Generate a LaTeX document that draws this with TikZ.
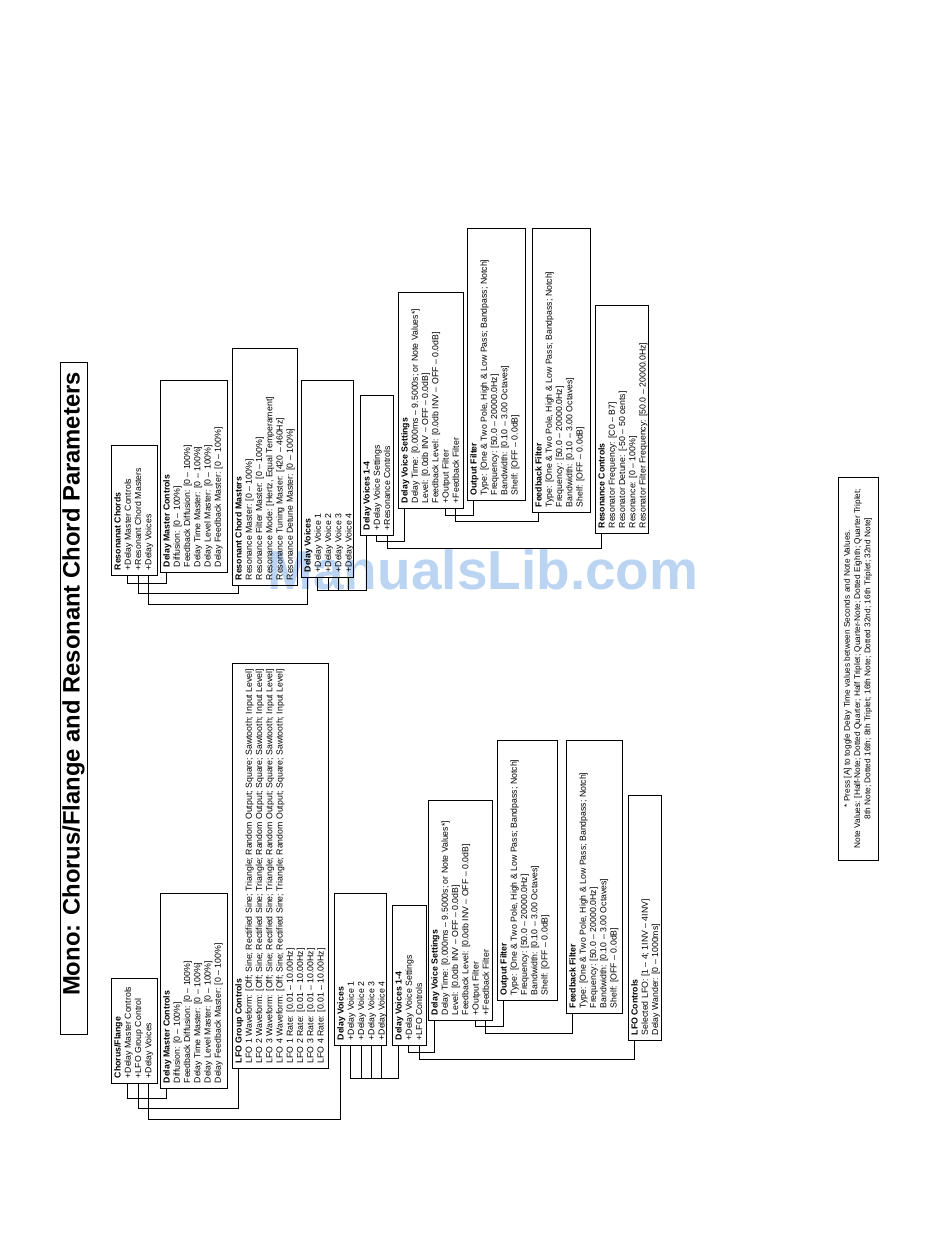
\documentclass[tikz,border=0pt]{standalone}
\usepackage{fontspec}
\setmainfont{Liberation Sans}
\usetikzlibrary{calc}
\definecolor{wmblue}{RGB}{186,212,242}
\newcommand\mkbox[6]{%
  \node[box, minimum width={(#5-#4)*1pt}, minimum height={(#3-#2)*1pt}] (#1) at ({(#2+#3)/2},{(#4+#5)/2}) {};
  \node[txt] (#1t) at (#1.north west) {#6};}
\begin{document}
\begin{tikzpicture}[x=1pt,y=-1pt,
  box/.style={draw, line width=1pt, rotate=90, inner sep=0pt},
  txt/.style={rotate=90, anchor=north west, align=left, inner xsep=5pt, inner ysep=3.5pt, font=\fontsize{8.75}{10.25}\selectfont},
  wire/.style={line width=1pt}]
\path[use as bounding box] (0,0) rectangle (950,1248);
\node[text=wmblue, font=\bfseries\fontsize{55}{60}\selectfont] (wm) at (483,570) {ManualsLib.com};
\node[draw, line width=1pt, rotate=90, minimum width=672pt, minimum height=27pt, inner sep=0pt] (title) at (73.5,698) {};
\node[rotate=90, inner sep=0pt, font=\bfseries\fontsize{23.8}{28}\selectfont] (titlet) at (73.5,684) {Mono: Chorus/Flange and Resonant Chord Parameters};
% ---------- bottom group ----------
\mkbox{cf}{111}{157}{978}{1083}{{\bfseries Chorus/Flange}\\+Delay Master Controls\\+LFO Group Control\\+Delay Voices}
\mkbox{dmcb}{160}{227}{893}{1088}{{\bfseries Delay Master Controls}\\Diffusion: [0 – 100\%]\\Feedback Diffusion: [0 – 100\%]\\Delay Time Master: [0 – 100\%]\\Delay Level Master: [0 – 100\%]\\Delay Feedback Master: [0 – 100\%]}
\mkbox{lfo}{232}{328}{663}{1068}{{\bfseries LFO Group Controls}\\LFO 1 Waveform: [Off; Sine; Rectified Sine; Triangle; Random Output; Square; Sawtooth; Input Level]\\LFO 2 Waveform: [Off; Sine; Rectified Sine; Triangle; Random Output; Square; Sawtooth; Input Level]\\LFO 3 Waveform: [Off; Sine; Rectified Sine; Triangle; Random Output; Square; Sawtooth; Input Level]\\LFO 4 Waveform: [Off; Sine; Rectified Sine; Triangle; Random Output; Square; Sawtooth; Input Level]\\LFO 1 Rate: [0.01 – 10.00Hz]\\LFO 2 Rate: [0.01 – 10.00Hz]\\LFO 3 Rate: [0.01 – 10.00Hz]\\LFO 4 Rate: [0.01 – 10.00Hz]}
\mkbox{dvb}{334}{386}{893}{1045}{{\bfseries Delay Voices}\\+Delay Voice 1\\+Delay Voice 2\\+Delay Voice 3\\+Delay Voice 4}
\mkbox{dvqb}{392}{426}{905}{1045}{{\bfseries Delay Voices 1-4}\\+Delay Voice Settings\\+LFO Controls}
\mkbox{dvsb}{428}{492}{800}{1020}{{\bfseries Delay Voice Settings}\\Delay Time: [0.000ms – 9.5000s; or Note Values*]\\Level: [0.0db INV – OFF – 0.0dB]\\Feedback Level: [0.0db INV – OFF – 0.0dB]\\+Output Filter\\+Feedback Filter}
\mkbox{ofb}{497}{557}{740}{1000}{{\bfseries Output Filter}\\Type: [One \& Two Pole, High \& Low Pass; Bandpass; Notch]\\Frequency: [50.0 – 20000.0Hz]\\Bandwidth: [0.10 – 3.00 Octaves]\\Shelf: [OFF – 0.0dB]}
\mkbox{ffb}{566}{622}{740}{1013}{{\bfseries Feedback Filter}\\Type: [One \& Two Pole, High \& Low Pass; Bandpass; Notch]\\Frequency: [50.0 – 20000.0Hz]\\Bandwidth: [0.10 – 3.00 Octaves]\\Shelf: [OFF – 0.0dB]}
\mkbox{lfoc}{628}{661}{795}{1040}{{\bfseries LFO Controls}\\Selected LFO: [1 – 4; 1INV – 4INV]\\Delay Wander: [0 – 1000ms]}
% bottom connectors
\draw[wire] ($(cf.north west)+(17.25,0)$) -- ++(0,15) -| ($(dmcb.north west)+(7,0)$);
\draw[wire] ($(cf.north west)+(27.5,0)$) -- ++(0,25) -| ($(lfo.north west)+(7,0)$);
\draw[wire] ($(cf.north west)+(37.75,0)$) -- ++(0,36) -| ($(dvb.north west)+(7,0)$);
\draw[wire] ($(dvb.north west)+(17.25,0)$) -- ++(0,33) -| ($(dvqb.north west)+(7,0)$);
\draw[wire] ($(dvb.north west)+(27.5,0)$) -- ++(0,33);
\draw[wire] ($(dvb.north west)+(37.75,0)$) -- ++(0,33);
\draw[wire] ($(dvb.north west)+(48,0)$) -- ++(0,33);
\draw[wire] ($(dvqb.north west)+(17.25,0)$) -- ++(0,7) -| ($(dvsb.north west)+(7,0)$);
\draw[wire] ($(dvqb.north west)+(27.5,0)$) -- ++(0,14) -| ($(lfoc.north west)+(7,0)$);
\draw[wire] ($(dvsb.north west)+(48,0)$) -- ++(0,6) -| ($(ofb.north west)+(7,0)$);
\draw[wire] ($(dvsb.north west)+(58.25,0)$) -- ++(0,13) -| ($(ffb.north west)+(7,0)$);
% ---------- top group ----------
\mkbox{rc}{111}{157}{445}{575}{{\bfseries Resonanat Chords}\\+Delay Master Controls\\+Resonant Chord Masters\\+Delay Voices}
\mkbox{dmct}{160}{227}{380}{572}{{\bfseries Delay Master Controls}\\Diffusion: [0 – 100\%]\\Feedback Diffusion: [0 – 100\%]\\Delay Time Master: [0 – 100\%]\\Delay Level Master: [0 – 100\%]\\Delay Feedback Master: [0 – 100\%]}
\mkbox{rcm}{232}{297}{348}{585}{{\bfseries Resonant Chord Masters}\\Resonance Master: [0 – 100\%]\\Resonance Filter Master: [0 – 100\%]\\Resonance Mode: [Hertz, Equal Temperament]\\Resonance Tuning Master: [420 – 460Hz]\\Resonance Detune Master: [0 – 100\%]}
\mkbox{dvt}{301}{353}{380}{577}{{\bfseries Delay Voices}\\+Delay Voice 1\\+Delay Voice 2\\+Delay Voice 3\\+Delay Voice 4}
\mkbox{dvqt}{360}{393}{395}{535}{{\bfseries Delay Voices 1-4}\\+Delay Voice Settings\\+Resonance Controls}
\mkbox{dvst}{398}{463}{292}{508}{{\bfseries Delay Voice Settings}\\Delay Time: [0.000ms – 9.5000s; or Note Values*]\\Level: [0.0db INV – OFF – 0.0dB]\\Feedback Level: [0.0db INV – OFF – 0.0dB]\\+Output Filter\\+Feedback Filter}
\mkbox{oft}{467}{525}{228}{500}{{\bfseries Output Filter}\\Type: [One \& Two Pole, High \& Low Pass; Bandpass; Notch]\\Frequency: [50.0 – 20000.0Hz]\\Bandwidth: [0.10 – 3.00 Octaves]\\Shelf: [OFF – 0.0dB]}
\mkbox{fft}{532}{590}{228}{512}{{\bfseries Feedback Filter}\\Type: [One \& Two Pole, High \& Low Pass; Bandpass; Notch]\\Frequency: [50.0 – 20000.0Hz]\\Bandwidth: [0.10 – 3.00 Octaves]\\Shelf: [OFF – 0.0dB]}
\mkbox{rsc}{595}{648}{305}{533}{{\bfseries Resonance Controls}\\Resonator Frequency: [C0 – B7]\\Resonator Detune: [-50 – 50 cents]\\Resonance: [0 – 100\%]\\Resonator Filter Frequency: [50.0 – 20000.0Hz]}
% top connectors
\draw[wire] ($(rc.north west)+(17.25,0)$) -- ++(0,8) -| ($(dmct.north west)+(7,0)$);
\draw[wire] ($(rc.north west)+(27.5,0)$) -- ++(0,18) -| ($(rcm.north west)+(7,0)$);
\draw[wire] ($(rc.north west)+(37.75,0)$) -- ++(0,29) -| ($(dvt.north west)+(7,0)$);
\draw[wire] ($(dvt.north west)+(17.25,0)$) -- ++(0,13) -| ($(dvqt.north west)+(7,0)$);
\draw[wire] ($(dvt.north west)+(27.5,0)$) -- ++(0,13);
\draw[wire] ($(dvt.north west)+(37.75,0)$) -- ++(0,13);
\draw[wire] ($(dvt.north west)+(48,0)$) -- ++(0,13);
\draw[wire] ($(dvqt.north west)+(17.25,0)$) -- ++(0,6) -| ($(dvst.north west)+(7,0)$);
\draw[wire] ($(dvqt.north west)+(27.5,0)$) -- ++(0,13) -| ($(rsc.north west)+(7,0)$);
\draw[wire] ($(dvst.north west)+(48,0)$) -- ++(0,7) -| ($(oft.north west)+(7,0)$);
\draw[wire] ($(dvst.north west)+(58.25,0)$) -- ++(0,13) -| ($(fft.north west)+(7,0)$);
% footnote
\node[draw, line width=1pt, rotate=90, minimum width=383pt, minimum height=40pt, inner sep=0pt, align=center, font=\fontsize{8.3}{10.25}\selectfont] (note) at (858,668.5) {* Press [A] to toggle Delay Time values between Seconds and Note Values.\\Note Values: [Half-Note; Dotted Quarter; Half Triplet; Quarter-Note; Dotted Eighth; Quarter Triplet;\\8th Note; Dotted 16th; 8th Triplet; 16th Note; Dotted 32nd; 16th Triplet; 32nd Note]};
\end{tikzpicture}
\end{document}
